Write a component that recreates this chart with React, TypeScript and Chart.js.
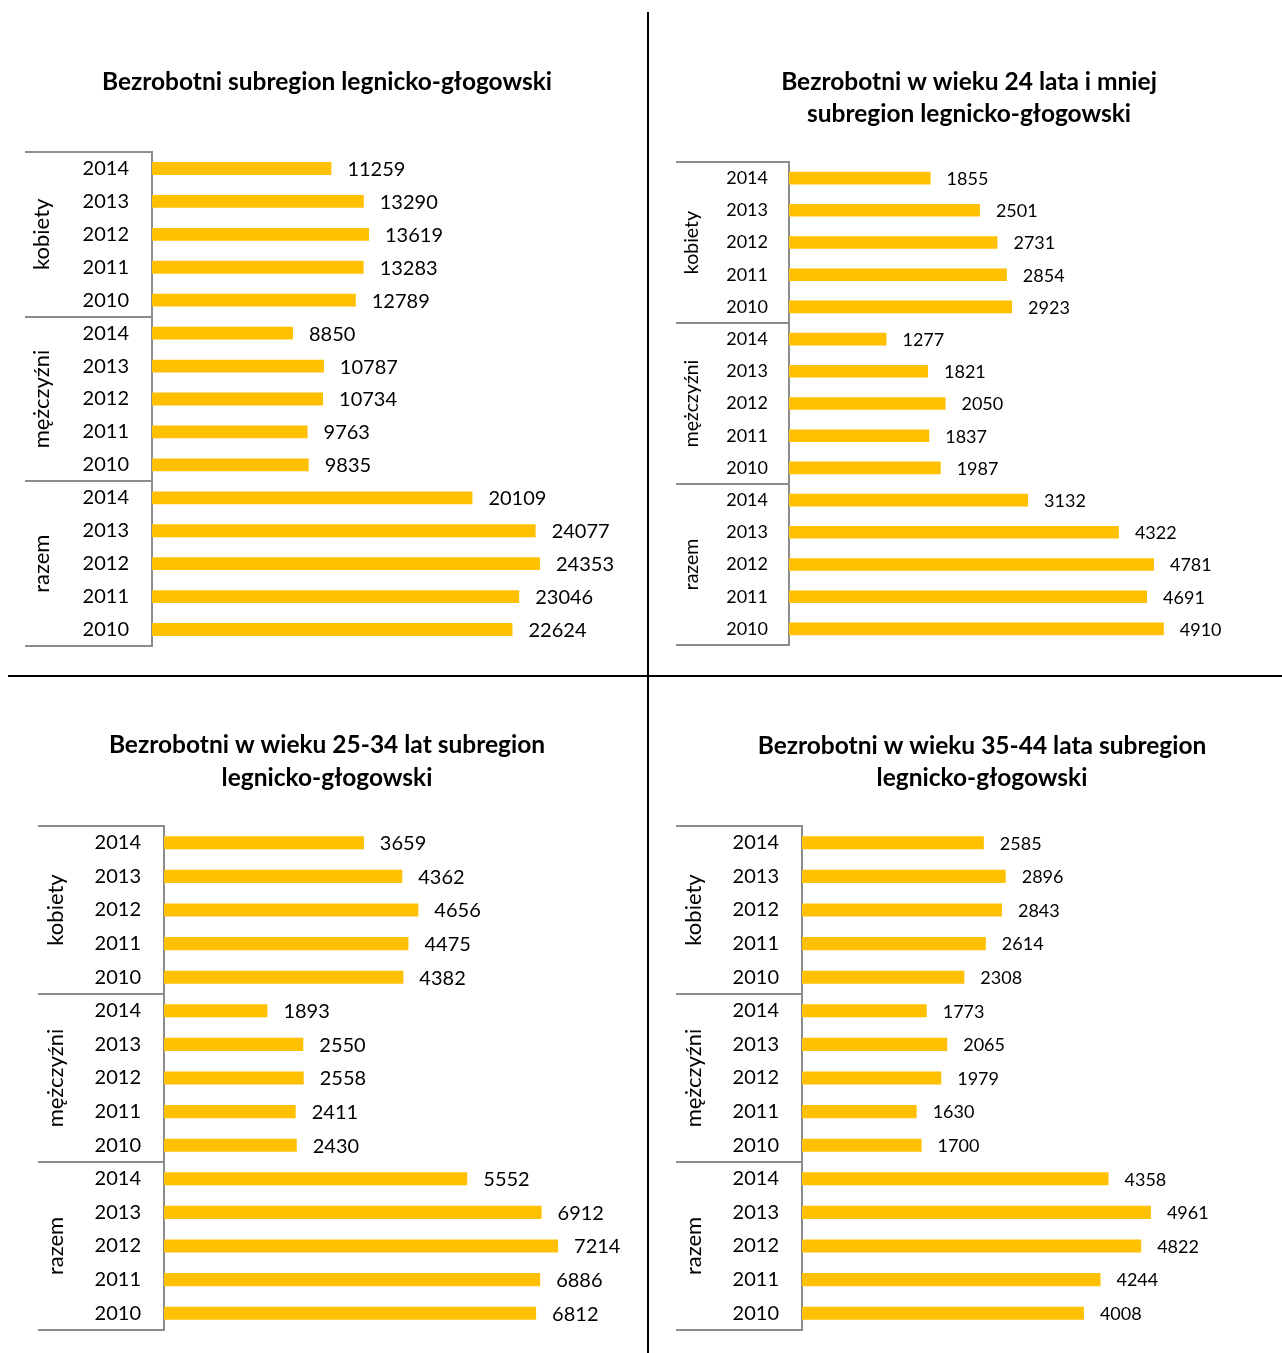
import React, { useEffect, useRef } from "react";
import { Chart, registerables } from "chart.js";

Chart.register(...registerables);

const FONT = 'Lato, "Open Sans", "DejaVu Sans", sans-serif';

const years = ["2014", "2013", "2012", "2011", "2010"];
const groupNames = ["kobiety", "mężczyźni", "razem"];

// Panel 1: Bezrobotni subregion legnicko-głogowski
const p1Kobiety = [11259, 13290, 13619, 13283, 12789];
const p1Mezczyzni = [8850, 10787, 10734, 9763, 9835];
const p1Razem = [20109, 24077, 24353, 23046, 22624];

// Panel 2: w wieku 24 lata i mniej
const p2Kobiety = [1855, 2501, 2731, 2854, 2923];
const p2Mezczyzni = [1277, 1821, 2050, 1837, 1987];
const p2Razem = [3132, 4322, 4781, 4691, 4910];

// Panel 3: w wieku 25-34 lat
const p3Kobiety = [3659, 4362, 4656, 4475, 4382];
const p3Mezczyzni = [1893, 2550, 2558, 2411, 2430];
const p3Razem = [5552, 6912, 7214, 6886, 6812];

// Panel 4: w wieku 35-44 lata
const p4Kobiety = [2585, 2896, 2843, 2614, 2308];
const p4Mezczyzni = [1773, 2065, 1979, 1630, 1700];
const p4Razem = [4358, 4961, 4822, 4244, 4008];

const p1Title = ["Bezrobotni subregion legnicko-głogowski"];
const p2Title = ["Bezrobotni w wieku 24 lata i mniej", "subregion legnicko-głogowski"];
const p3Title = ["Bezrobotni w wieku 25-34 lat subregion", "legnicko-głogowski"];
const p4Title = ["Bezrobotni w wieku 35-44 lata subregion", "legnicko-głogowski"];

type Panel = {
  left: number;
  top: number;
  width: number;
  height: number;
  title: string[];
  titleX: number;
  titleY: number[];
  groups: number[][];
  xMax: number;
  padTop: number;
  padBottom: number;
  padRight: number;
  axisWidth: number;
  groupLineLeft: number;
  groupLabelX: number;
  tickFont: number;
  valueFont: number;
  groupFont: number;
  tickPad: number;
};

const panels: Panel[] = [
  {
    left: 0, top: 0, width: 646, height: 674,
    title: p1Title, titleX: 327, titleY: [82],
    groups: [p1Kobiety, p1Mezczyzni, p1Razem], xMax: 30000,
    padTop: 152, padBottom: 28, padRight: 16, axisWidth: 152,
    groupLineLeft: 25, groupLabelX: 42, tickFont: 20, valueFont: 20, groupFont: 22, tickPad: 23,
  },
  {
    left: 650, top: 0, width: 632, height: 674,
    title: p2Title, titleX: 319, titleY: [82, 114],
    groups: [p2Kobiety, p2Mezczyzni, p2Razem], xMax: 6000,
    padTop: 162, padBottom: 29, padRight: 35, axisWidth: 139,
    groupLineLeft: 26, groupLabelX: 42, tickFont: 18, valueFont: 18, groupFont: 19.5, tickPad: 21,
  },
  {
    left: 0, top: 678, width: 646, height: 675,
    title: p3Title, titleX: 327, titleY: [67, 100],
    groups: [p3Kobiety, p3Mezczyzni, p3Razem], xMax: 8000,
    padTop: 148, padBottom: 23, padRight: 45, axisWidth: 164,
    groupLineLeft: 38, groupLabelX: 56, tickFont: 20, valueFont: 20, groupFont: 22, tickPad: 23,
  },
  {
    left: 650, top: 678, width: 632, height: 675,
    title: p4Title, titleX: 332, titleY: [68, 100],
    groups: [p4Kobiety, p4Mezczyzni, p4Razem], xMax: 6000,
    padTop: 148, padBottom: 23, padRight: 58, axisWidth: 152,
    groupLineLeft: 26, groupLabelX: 44, tickFont: 20, valueFont: 18, groupFont: 22, tickPad: 23,
  },
];

const decorPlugin = {
  id: "decor",
  afterDraw(chart: any) {
    const opts = chart.options.plugins.decor as Panel;
    const { ctx, chartArea } = chart;
    const yScale = chart.scales.y;
    const meta = chart.getDatasetMeta(0);
    const data = chart.data.datasets[0].data as number[];
    ctx.save();

    // Title
    ctx.fillStyle = "#000";
    ctx.font = `bold 24.5px ${FONT}`;
    ctx.textAlign = "center";
    ctx.textBaseline = "middle";
    opts.title.forEach((line, i) => ctx.fillText(line, opts.titleX, opts.titleY[i]));

    // Value labels
    ctx.font = `${opts.valueFont}px ${FONT}`;
    ctx.textAlign = "left";
    meta.data.forEach((bar: any, i: number) => {
      ctx.fillText(String(data[i]), bar.x + 16, bar.y + 1);
    });

    // Group boundary lines
    const per = years.length;
    const bounds: number[] = [chartArea.top];
    for (let g = 1; g < groupNames.length; g++) {
      const a = yScale.getPixelForValue(g * per - 1);
      const b = yScale.getPixelForValue(g * per);
      bounds.push((a + b) / 2);
    }
    bounds.push(chartArea.bottom);
    ctx.strokeStyle = "#8c8c8c";
    ctx.lineWidth = 2;
    bounds.forEach((y) => {
      ctx.beginPath();
      ctx.moveTo(opts.groupLineLeft, Math.round(y));
      ctx.lineTo(chartArea.left, Math.round(y));
      ctx.stroke();
    });

    // Group labels (rotated)
    ctx.font = `${opts.groupFont}px ${FONT}`;
    ctx.textAlign = "center";
    ctx.textBaseline = "middle";
    for (let g = 0; g < groupNames.length; g++) {
      const cy = (bounds[g] + bounds[g + 1]) / 2;
      ctx.save();
      ctx.translate(opts.groupLabelX, cy);
      ctx.rotate(-Math.PI / 2);
      ctx.fillText(groupNames[g], 0, 0);
      ctx.restore();
    }
    ctx.restore();
  },
};

function PanelChart({ panel }: { panel: Panel }) {
  const ref = useRef<HTMLCanvasElement | null>(null);
  useEffect(() => {
    if (!ref.current) return;
    const labels: string[] = [];
    const values: number[] = [];
    panel.groups.forEach((g) => {
      years.forEach((y, i) => {
        labels.push(y);
        values.push(g[i]);
      });
    });
    const chart = new Chart(ref.current, {
      type: "bar",
      data: {
        labels,
        datasets: [
          {
            data: values,
            backgroundColor: "#FFC000",
            borderWidth: 0,
            barPercentage: 0.39,
            categoryPercentage: 1,
          },
        ],
      },
      options: {
        indexAxis: "y",
        responsive: false,
        animation: false,
        layout: {
          padding: { top: panel.padTop, bottom: panel.padBottom, right: panel.padRight, left: 0 },
        },
        plugins: {
          legend: { display: false },
          tooltip: { enabled: false },
          title: { display: false },
          decor: panel as any,
        } as any,
        scales: {
          x: { display: false, min: 0, max: panel.xMax },
          y: {
            display: true,
            grid: { display: false, drawTicks: false },
            border: { display: true, color: "#8c8c8c", width: 2 },
            ticks: {
              color: "#000",
              padding: panel.tickPad,
              font: { family: FONT, size: panel.tickFont },
              autoSkip: false,
            },
            afterFit: (scale: any) => {
              scale.width = panel.axisWidth;
              scale.paddingTop = 0;
              scale.paddingBottom = 0;
            },
          },
        },
      },
      plugins: [decorPlugin as any],
    });
    return () => chart.destroy();
  }, [panel]);
  return (
    <canvas
      ref={ref}
      width={panel.width}
      height={panel.height}
      style={{ position: "absolute", left: panel.left, top: panel.top, width: panel.width, height: panel.height }}
    />
  );
}

export default function App() {
  return (
    <div
      style={{
        position: "absolute",
        left: 0,
        top: 0,
        width: 1282,
        height: 1353,
        overflow: "hidden",
        background: "#fff",
      }}
    >
      {panels.map((p, i) => (
        <PanelChart key={i} panel={p} />
      ))}
      <div style={{ position: "absolute", left: 647, top: 12, width: 2, height: 1341, background: "#000" }} />
      <div style={{ position: "absolute", left: 8, top: 675, width: 1274, height: 2, background: "#000" }} />
    </div>
  );
}
